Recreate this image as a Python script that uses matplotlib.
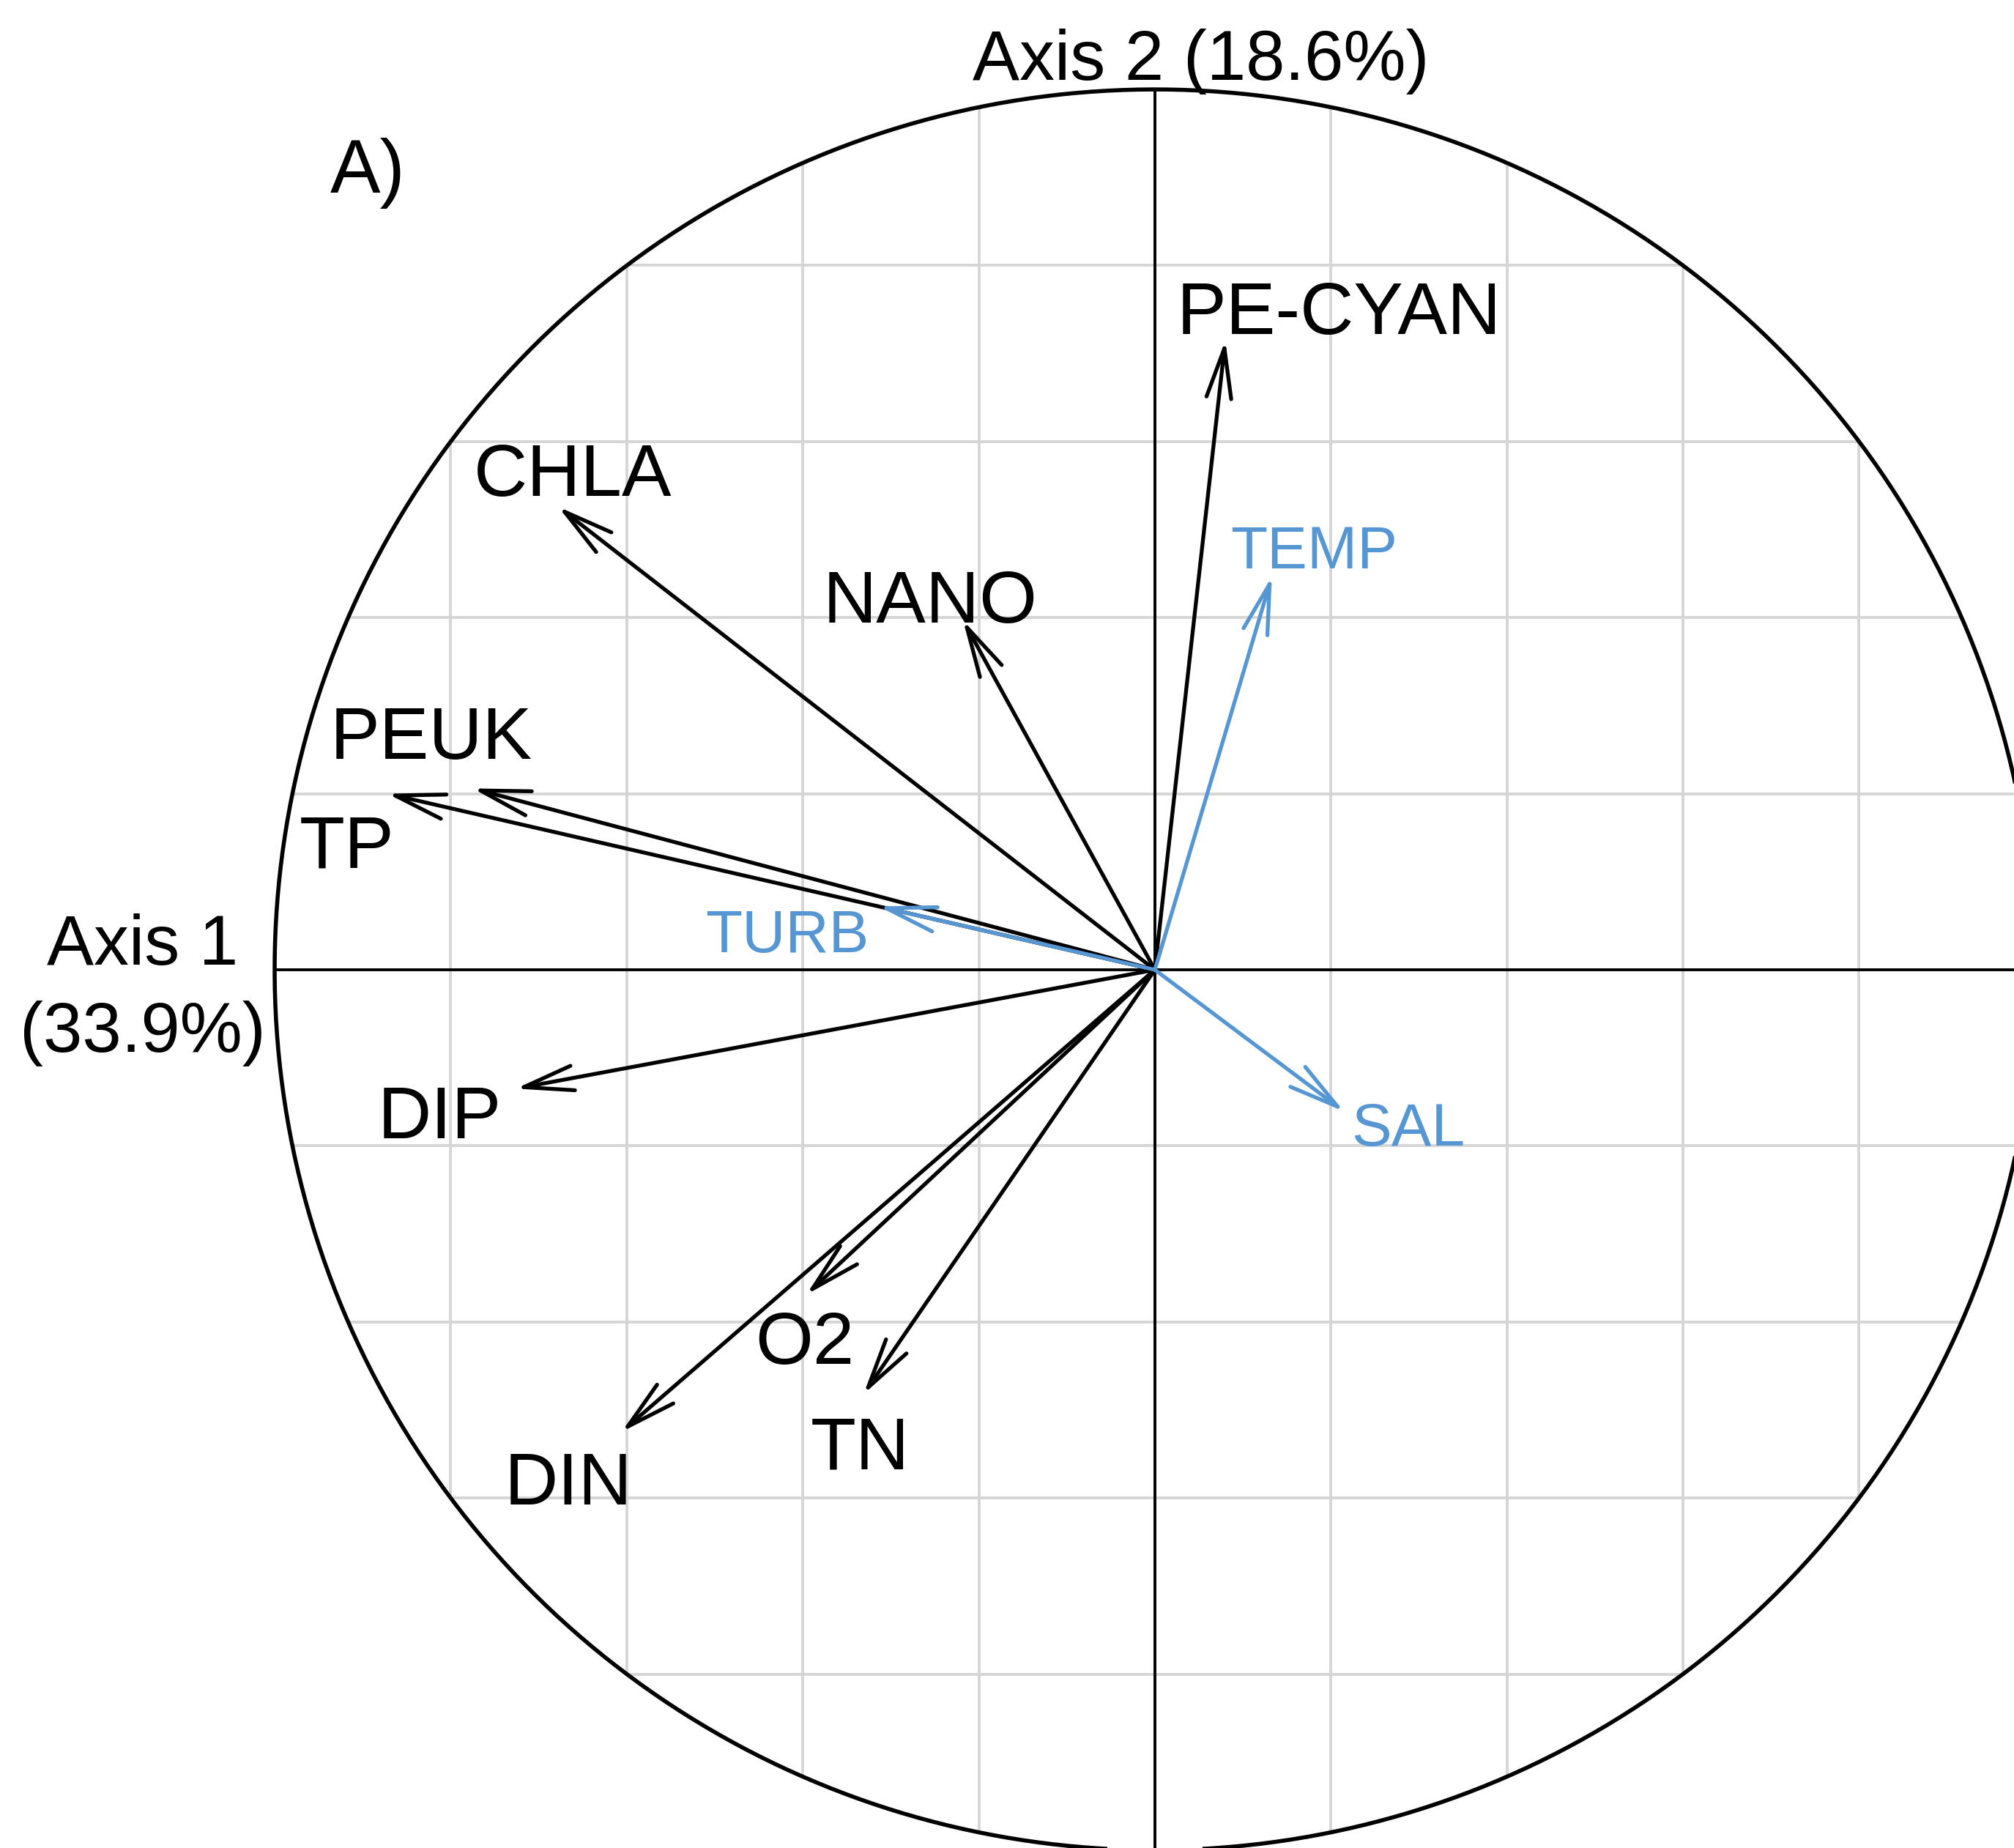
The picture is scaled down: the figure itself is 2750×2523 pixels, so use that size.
import numpy as np
import matplotlib.pyplot as plt

plt.rcParams['font.family'] = ['Liberation Sans', 'DejaVu Sans']

# correlation-circle loadings (axis 1, axis 2)
bio_names = ["PE-CYAN", "CHLA", "NANO", "PEUK", "TP", "DIP", "O2", "TN", "DIN"]
bio_x = [0.080, -0.678, -0.218, -0.775, -0.872, -0.726, -0.396, -0.331, -0.606]
bio_y = [0.715, 0.526, 0.397, 0.206, 0.200, -0.135, -0.369, -0.482, -0.525]

env_names = ["TEMP", "TURB", "SAL"]
env_x = [0.133, -0.314, 0.215]
env_y = [0.447, 0.072, -0.161]

axis1_pct = 33.9
axis2_pct = 18.6

# label anchors (centre x, baseline y)
bio_label_pos = [(0.209, 0.722), (-0.661, 0.538), (-0.255, 0.394), (-0.822, 0.240),
                 (-0.918, 0.116), (-0.813, -0.191), (-0.398, -0.448), (-0.335, -0.567),
                 (-0.666, -0.607)]
env_label_pos = [(0.181, 0.456), (-0.418, 0.020), (0.288, -0.200)]

blue = "#5696d3"
grid_col = "#d6d6d6"

fig = plt.figure(figsize=(13.75, 12.615), dpi=200)
ax = fig.add_axes([0, 0, 1, 1])
ax.set_xlim(-1.312, 0.976)
ax.set_ylim(-0.9975, 1.1015)
ax.set_aspect("equal")
ax.axis("off")

# grid clipped to the unit circle
for g in np.arange(-0.8, 0.81, 0.2):
    h = np.sqrt(1 - g ** 2)
    ax.plot([g, g], [-h, h], color=grid_col, lw=1.4, zorder=1)
    ax.plot([-h, h], [g, g], color=grid_col, lw=1.4, zorder=1)

t = np.linspace(0, 2 * np.pi, 720)
ax.plot(np.cos(t), np.sin(t), color="black", lw=2.0, zorder=2)
ax.plot([-1, 1], [0, 0], color="black", lw=1.4, zorder=2)
ax.plot([0, 0], [-1, 1], color="black", lw=1.4, zorder=2)

arrow_style = "->,head_length=2.45,head_width=0.61"


def draw_arrows(xs, ys, names, label_pos, color, fs):
    for x, y, name, (lx, ly) in zip(xs, ys, names, label_pos):
        ax.annotate("", xy=(x, y), xytext=(0, 0),
                    arrowprops=dict(arrowstyle=arrow_style, color=color, lw=1.9,
                                    shrinkA=0, shrinkB=0, mutation_scale=10,
                                    capstyle="round", joinstyle="round"),
                    zorder=3)
        ax.text(lx, ly, name, color=color, fontsize=fs, ha="center", va="baseline", zorder=4)


draw_arrows(bio_x, bio_y, bio_names, bio_label_pos, "black", 36.5)
draw_arrows(env_x, env_y, env_names, env_label_pos, blue, 29.5)

ax.text(0.052, 1.011, f"Axis 2 ({axis2_pct}%)", fontsize=34.5, ha="center", va="baseline")
ax.text(-1.150, -0.023, f"Axis 1\n({axis1_pct}%)", fontsize=34.5, ha="center",
        va="center", linespacing=1.42)
ax.text(-0.937, 0.883, "A)", fontsize=37, ha="left", va="baseline")

fig.savefig("out.png", dpi=200, facecolor="white")
